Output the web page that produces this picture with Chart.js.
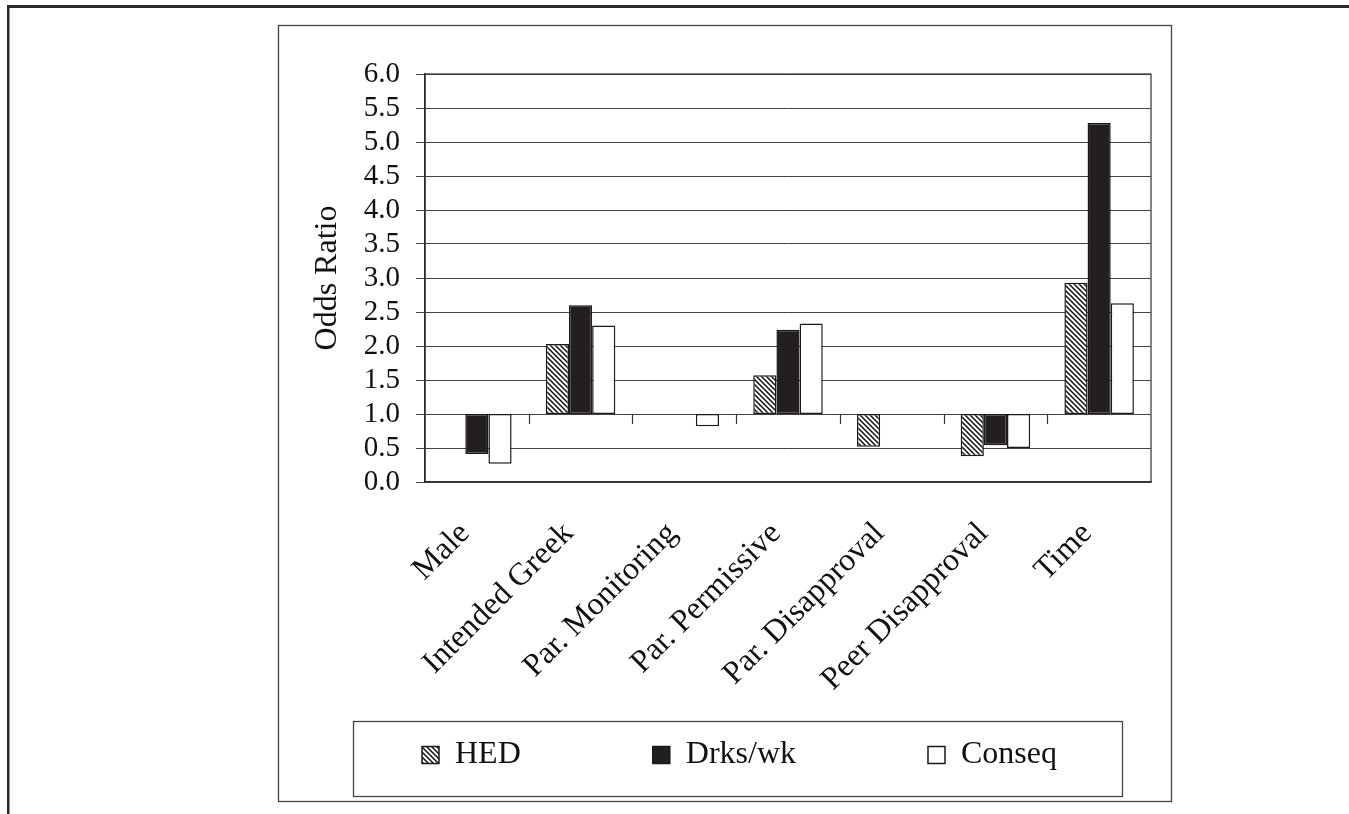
<!DOCTYPE html>
<html><head><meta charset="utf-8">
<script src="https://cdn.jsdelivr.net/npm/chart.js@4.4.0/dist/chart.umd.min.js"></script>
<style>html,body{margin:0;padding:0;background:#fff;overflow:hidden}#wrap{position:relative;width:1349px;height:814px}</style>
</head><body><div id="wrap"><canvas id="c"></canvas></div>
<script>
const categories = ['Male','Intended Greek','Par. Monitoring','Par. Permissive','Par. Disapproval','Peer Disapproval','Time'];
const seriesNames = ['HED','Drks/wk','Conseq'];
const hedValues = [null, 2.03, null, 1.57, 0.52, 0.38, 2.93];
const drksValues = [0.41, 2.60, null, 2.24, null, 0.54, 5.28];
const conseqValues = [0.27, 2.30, 0.82, 2.33, null, 0.50, 2.63];
const baseline = 1.0;
const yTickLabels = ['0.0','0.5','1.0','1.5','2.0','2.5','3.0','3.5','4.0','4.5','5.0','5.5','6.0'];
const axisTitle = 'Odds Ratio';

const FONT = 'Liberation Serif';
const LEG_FONT = 32;
const LEG_PAD = 132;
const X_FONT = 32;
const X_COMP = X_FONT * 1.2 * Math.SQRT1_2; // compensation for mirrored rotated labels

function hatchPattern(){
  const c = document.createElement('canvas'); c.width = 5; c.height = 5;
  const g = c.getContext('2d');
  g.fillStyle = '#fff'; g.fillRect(0,0,5,5);
  g.strokeStyle = '#111'; g.lineWidth = 1.5;
  g.beginPath();
  g.moveTo(-1,-1); g.lineTo(6,6);
  g.moveTo(-1,4); g.lineTo(1,6);
  g.moveTo(4,-1); g.lineTo(6,1);
  g.stroke();
  return g.createPattern(c,'repeat');
}
const toFloat = arr => arr.map(v => v == null ? null : [baseline, v]);

const deco = {
  id: 'deco',
  beforeDraw(chart){
    const ctx = chart.ctx;
    ctx.save();
    ctx.fillStyle = '#fff'; ctx.fillRect(0,0,chart.width,chart.height);
    ctx.fillStyle = '#2a2a2a';
    ctx.fillRect(7,5,chart.width-7,3);
    ctx.fillRect(7,5,2.5,chart.height-5);
    ctx.strokeStyle = '#444'; ctx.lineWidth = 1.3;
    ctx.strokeRect(278.5,25.5,893,776);
    ctx.restore();
  },
  afterDraw(chart){
    const ctx = chart.ctx, a = chart.chartArea;
    const xs = chart.scales.x, ys = chart.scales.y;
    ctx.save();
    ctx.strokeStyle = '#333'; ctx.lineWidth = 1.2;
    ctx.strokeRect(a.left, a.top, a.right - a.left, a.bottom - a.top);
    const yb = ys.getPixelForValue(baseline);
    ctx.beginPath();
    for (let i = 1; i < categories.length; i++){
      const x = Math.round((xs.getPixelForValue(i-1) + xs.getPixelForValue(i)) / 2) + 0.5;
      ctx.moveTo(x, yb); ctx.lineTo(x, yb + 10);
    }
    ctx.stroke();
    const hb = chart.legend.legendHitBoxes;
    if (hb && hb.length){
      const l = hb[0].left, r = hb[hb.length-1].left + hb[hb.length-1].width;
      const cy = hb[0].top + hb[0].height/2;
      ctx.strokeStyle = '#444'; ctx.lineWidth = 1.3;
      ctx.strokeRect(Math.round(l - 69) + 0.5, Math.round(cy - 34) + 0.5, Math.round(r - l + 134), 75);
    }
    ctx.restore();
  }
};

const borderCol = '#1a1a1a';
new Chart(document.getElementById('c'), {
  type: 'bar',
  data: {
    labels: categories,
    datasets: [
      {label: seriesNames[0], data: toFloat(hedValues), backgroundColor: hatchPattern(), borderColor: borderCol, borderWidth: 1.5, borderSkipped: false},
      {label: seriesNames[1], data: toFloat(drksValues), backgroundColor: '#231f20', borderColor: borderCol, borderWidth: 1.5, borderSkipped: false},
      {label: seriesNames[2], data: toFloat(conseqValues), backgroundColor: '#ffffff', borderColor: borderCol, borderWidth: 1.5, borderSkipped: false}
    ]
  },
  options: {
    responsive: true, maintainAspectRatio: false, animation: false,
    datasets: {bar: {categoryPercentage: 0.67, barPercentage: 1.0}},
    layout: {padding: {left: 130, right: 0, top: 74, bottom: 33}},
    plugins: {
      tooltip: {enabled: false},
      legend: {
        position: 'bottom', align: 'center',
        labels: {font: {family: FONT, size: LEG_FONT}, color: '#111', boxWidth: 17, boxHeight: 17, padding: LEG_PAD}
      }
    },
    scales: {
      x: {
        offset: true,
        grid: {display: false, drawTicks: false},
        border: {display: true, color: '#333', width: 1.2},
        ticks: {font: {family: FONT, size: X_FONT}, color: '#111', minRotation: 45, maxRotation: 45, autoSkip: false,
                mirror: true, padding: -(33 + X_COMP), labelOffset: -12 + X_COMP},
        afterFit(s){ s.height = 125; }
      },
      y: {
        min: 0, max: 6,
        ticks: {stepSize: 0.5, autoSkip: false, font: {family: FONT, size: 29}, color: '#111', padding: 16, callback: (v, i) => yTickLabels[i]},
        grid: {color: '#444', lineWidth: 1, tickLength: 9, drawTicks: true},
        border: {display: true, color: '#222', width: 1.5},
        title: {display: true, text: axisTitle, font: {family: FONT, size: 32}, color: '#111', padding: {top: 178, bottom: 0}},
        afterFit(s){ s.width = 295; }
      },
      yRight: {
        type: 'linear', position: 'right', display: true,
        grid: {display: false, drawTicks: false}, border: {display: false}, ticks: {display: false},
        afterFit(s){ s.width = 198; }
      }
    }
  },
  plugins: [deco]
});
</script>
</body></html>
